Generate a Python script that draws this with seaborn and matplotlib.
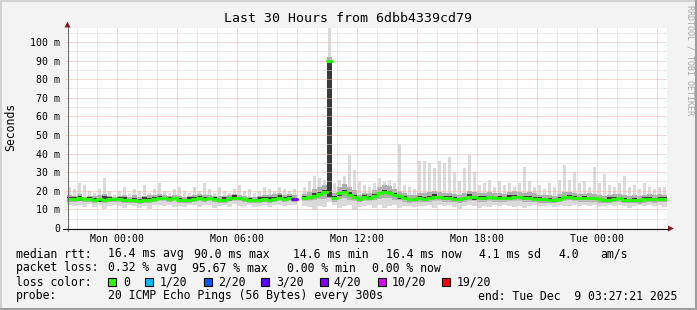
import numpy as np
import pandas as pd
import matplotlib
matplotlib.use("Agg")
import matplotlib.pyplot as plt
import seaborn as sns
from matplotlib.patches import Rectangle, Polygon
from matplotlib.lines import Line2D

nan = float("nan")

# ---------------- data (milliseconds), 15-minute bins ----------------
median = [
    15.8, 15.6, 15.9, 15.4, 15.6, 15.2, 15.5, 15.3, 15.6, 15.4,
    15.6, 15.2, 15.0, 15.3, 14.6, 14.8, 15.2, 15.8, 16.1, 15.9,
    15.7, 16.0, 15.2, 14.9, 15.1, 15.7, 16.0, 15.8, 16.1, 15.6,
    15.0, 15.3, 16.0, 16.2, 15.9, 15.4, 15.1, 14.8, 15.3, 15.6,
    15.2, 15.8, 16.3, 15.6, 15.9, 15.5, nan, 16.2, 16.5, 17.4,
    18.4, 19.2, 90.0, 16.1, 18.6, 19.3, 18.0, 16.8, 15.5, 16.4,
    16.2, 17.2, 18.6, 19.3, 19.0, 17.8, 17.0, 16.0, 15.4, 15.5,
    16.0, 15.8, 16.2, 16.8, 16.6, 16.3, 16.0, 15.7, 15.5, 16.0,
    16.8, 16.5, 16.3, 16.2, 16.5, 16.0, 16.2, 15.9, 16.3, 16.8,
    16.6, 16.0, 16.2, 15.8, 15.6, 15.4, 15.1, 15.0, 15.6, 16.6,
    16.8, 16.3, 16.0, 15.9, 16.1, 16.0, 15.4, 15.0, 15.2, 15.8,
    15.9, 15.1, 15.0, 15.3, 14.9, 15.6, 15.8, 15.5, 15.7, 15.6,
]
core_high = [
    16.6, 16.4, 17.2, 16.2, 16.4, 16.0, 16.3, 17.0, 16.4, 16.2,
    16.4, 16.8, 15.8, 16.1, 15.4, 16.4, 16.0, 16.6, 17.4, 16.7,
    16.5, 16.8, 16.0, 15.7, 16.6, 16.5, 17.2, 16.6, 16.9, 16.4,
    15.8, 16.7, 16.8, 17.5, 16.7, 16.2, 15.9, 15.6, 16.9, 16.4,
    16.6, 16.6, 17.6, 16.4, 17.2, 16.3, nan, 17.0, 17.3, 18.6,
    19.6, 20.4, 90.0, 17.3, 19.4, 20.6, 19.6, 17.6, 16.3, 17.6,
    17.0, 18.4, 19.4, 20.4, 20.0, 18.6, 17.8, 17.2, 16.2, 16.3,
    17.2, 16.6, 17.0, 18.2, 17.4, 17.1, 17.2, 16.5, 16.3, 16.8,
    18.2, 17.3, 17.1, 17.4, 17.3, 16.8, 17.4, 16.7, 17.6, 17.6,
    17.4, 17.2, 17.0, 16.6, 16.4, 16.2, 16.3, 15.8, 16.4, 17.4,
    17.6, 17.1, 16.8, 17.0, 16.9, 16.8, 16.2, 15.8, 16.4, 16.6,
    16.7, 16.3, 15.8, 16.1, 15.7, 16.4, 16.6, 16.3, 16.5, 16.4,
]
core_low = [
    15.0, 14.8, 14.6, 14.6, 14.8, 14.4, 14.2, 14.5, 14.8, 14.6,
    14.8, 14.4, 14.2, 13.9, 13.8, 14.0, 14.4, 14.5, 15.3, 15.1,
    14.9, 15.2, 14.4, 14.1, 14.3, 14.4, 15.2, 15.0, 14.8, 14.8,
    14.2, 14.5, 14.7, 15.4, 15.1, 14.6, 13.9, 14.0, 14.5, 14.8,
    14.4, 14.5, 15.5, 14.3, 15.1, 14.7, nan, 15.4, 15.7, 16.2,
    17.2, 18.4, 16.5, 15.3, 17.4, 18.5, 16.8, 16.0, 14.3, 15.6,
    15.4, 16.0, 17.8, 18.5, 17.8, 17.0, 15.8, 15.2, 14.6, 14.3,
    15.2, 14.6, 15.4, 16.0, 15.8, 15.1, 15.2, 14.5, 14.7, 15.2,
    16.0, 15.3, 15.5, 15.0, 15.7, 15.2, 15.0, 15.1, 15.5, 15.6,
    15.8, 15.2, 15.0, 15.0, 14.4, 14.6, 14.3, 14.2, 14.8, 15.4,
    16.0, 15.5, 14.8, 15.1, 15.3, 14.8, 14.6, 14.2, 14.4, 14.6,
    15.1, 14.3, 14.2, 14.1, 14.1, 14.8, 14.6, 14.7, 14.9, 14.8,
]
q_high = [
    17.5, 17.0, 18.2, 16.8, 17.4, 17.0, 17.8, 18.5, 17.2, 16.9,
    17.3, 17.8, 16.8, 17.5, 16.4, 17.2, 17.9, 17.6, 18.3, 17.5,
    17.2, 17.8, 17.0, 16.8, 17.0, 17.6, 18.2, 17.9, 18.0, 17.4,
    17.0, 17.3, 18.0, 18.4, 17.7, 17.2, 16.9, 16.6, 17.4, 17.8,
    17.6, 18.5, 18.8, 17.9, 18.2, 17.6, nan, 18.4, 19.5, 21.0,
    21.8, 23.0, 92.0, 19.0, 22.0, 23.5, 22.0, 20.5, 18.0, 19.0,
    19.0, 20.5, 22.0, 23.0, 22.5, 21.0, 20.0, 18.6, 17.8, 18.0,
    19.0, 18.6, 19.5, 20.0, 19.4, 19.0, 18.8, 18.4, 18.0, 18.8,
    19.8, 19.6, 19.0, 18.8, 19.4, 18.6, 19.0, 18.5, 19.2, 19.8,
    19.5, 19.0, 19.4, 18.8, 18.0, 17.8, 17.6, 17.4, 18.2, 19.4,
    19.6, 18.8, 18.4, 18.4, 18.6, 18.5, 17.8, 17.4, 17.6, 18.2,
    18.4, 17.6, 17.4, 17.8, 17.2, 18.0, 18.4, 18.0, 18.2, 18.0,
]
q_low = [
    14.2, 14.0, 14.3, 13.8, 14.1, 13.6, 13.9, 13.5, 14.0, 13.8,
    14.0, 13.6, 13.4, 13.7, 13.0, 13.3, 13.6, 14.2, 14.5, 14.3,
    14.1, 14.4, 13.6, 13.2, 13.5, 14.1, 14.4, 14.2, 14.5, 14.0,
    13.4, 13.7, 14.4, 14.6, 14.3, 13.8, 13.5, 13.2, 13.7, 14.0,
    13.6, 14.2, 14.6, 14.0, 14.3, 13.9, nan, 14.5, 14.6, 15.0,
    15.4, 15.8, 16.0, 14.2, 15.6, 16.0, 15.2, 14.6, 13.8, 14.5,
    14.6, 15.0, 15.8, 16.2, 16.0, 15.2, 14.8, 14.2, 13.6, 13.8,
    14.0, 13.8, 14.2, 14.6, 14.4, 14.2, 14.0, 13.8, 13.6, 14.0,
    14.6, 14.4, 14.2, 14.1, 14.4, 14.0, 14.2, 13.9, 14.3, 14.7,
    14.5, 14.0, 14.2, 13.8, 13.7, 13.5, 13.3, 13.2, 13.8, 14.6,
    14.8, 14.3, 14.0, 14.0, 14.2, 14.1, 13.6, 13.2, 13.4, 13.9,
    14.0, 13.3, 13.2, 13.5, 13.1, 13.7, 14.0, 13.7, 13.9, 13.8,
]
rtt_min = [
    12.5, 11.8, 12.6, 11.2, 12.8, 11.5, 12.2, 10.4, 12.0, 12.6,
    11.8, 11.0, 12.2, 11.6, 11.0, 11.8, 10.2, 12.3, 12.6, 11.9,
    12.4, 11.2, 12.0, 11.4, 12.5, 12.1, 11.3, 12.6, 12.2, 11.0,
    11.9, 12.4, 11.5, 12.7, 12.0, 11.6, 12.3, 11.2, 11.8, 12.4,
    11.5, 12.1, 12.6, 11.7, 12.2, 12.5, nan, 12.0, 11.4, 9.8,
    12.0, 11.2, 14.0, 12.5, 10.6, 11.8, 12.4, 9.6, 11.5, 12.0,
    12.2, 11.0, 12.4, 10.8, 11.6, 12.3, 10.5, 11.8, 12.0, 11.2,
    12.0, 11.6, 12.3, 11.0, 12.1, 11.7, 12.2, 11.4, 10.4, 11.9,
    12.3, 11.6, 10.8, 12.0, 11.5, 12.2, 11.9, 12.4, 11.8, 11.2,
    12.0, 10.9, 11.6, 12.3, 12.0, 11.8, 12.4, 11.5, 12.1, 11.6,
    12.0, 12.4, 11.7, 12.2, 11.9, 12.3, 11.6, 12.0, 12.4, 11.8,
    12.2, 11.9, 10.6, 12.0, 12.3, 11.7, 12.2, 11.9, 12.4, 11.3,
]
rtt_max = [
    22, 21, 24, 23, 20, 19, 21, 27, 20, 18,
    20, 22, 19, 21, 20, 23, 19, 21, 24, 20,
    19, 21, 22, 20, 19, 22, 20, 24, 21, 19,
    22, 20, 19, 21, 23, 20, 21, 19, 20, 22,
    21, 20, 22, 21, 20, 21, nan, 22, 25, 28,
    27, 26, 112, 24, 26, 28, 39, 31, 25, 23,
    22, 24, 27, 25, 26, 24, 45, 23, 22, 21,
    36, 36, 35, 32, 36, 35, 38, 30, 25, 32,
    39, 30, 23, 24, 26, 22, 25, 23, 24, 22,
    24, 33, 25, 22, 23, 21, 24, 22, 26, 34,
    26, 30, 24, 25, 22, 33, 24, 29, 23, 22,
    24, 28, 22, 23, 21, 24, 22, 21, 22, 22,
]
loss = [  # lost pings out of 20 per bin
    0, 0, 0, 0, 0, 0, 0, 0, 0, 0,
    0, 0, 0, 0, 0, 0, 0, 0, 0, 0,
    0, 0, 0, 0, 0, 0, 0, 0, 0, 0,
    0, 0, 0, 0, 0, 0, 0, 0, 0, 0,
    0, 0, 0, 0, 0, 4, 20, 0, 0, 0,
    0, 0, 0, 0, 0, 0, 0, 0, 0, 0,
    0, 0, 0, 0, 0, 0, 0, 0, 0, 0,
    0, 0, 0, 0, 0, 0, 0, 0, 0, 0,
    0, 0, 0, 0, 0, 0, 0, 0, 0, 0,
    0, 0, 0, 0, 0, 0, 0, 0, 0, 0,
    0, 0, 0, 0, 0, 0, 0, 0, 0, 0,
    0, 0, 0, 0, 0, 0, 0, 0, 0, 0,
]
x_tick_hours = [0, 6, 12, 18, 24]
x_tick_labels = ["Mon 00:00", "Mon 06:00", "Mon 12:00", "Mon 18:00", "Tue 00:00"]
y_ticks = [0, 10, 20, 30, 40, 50, 60, 70, 80, 90, 100]
y_tick_labels = ["0", "10 m", "20 m", "30 m", "40 m", "50 m", "60 m", "70 m",
                 "80 m", "90 m", "100 m"]
loss_thresholds = [0, 1, 2, 3, 4, 10, 19]
loss_labels = ["0", "1/20", "2/20", "3/20", "4/20", "10/20", "19/20"]
loss_colors = ["#26ff00", "#00b8ff", "#0059ff", "#5e00ff", "#7e00ff", "#dd00ff", "#ff0000"]

t_start = -2.475      # hours relative to Mon 00:00
bin_hours = 0.25
span_hours = 30.0

# ---------------- figure ----------------
W, H = 697, 310
sns.set_theme(style="white")
plt.rcParams["font.family"] = ["DejaVu Sans Mono"]
plt.rcParams["text.color"] = "black"

fig = plt.figure(figsize=(W / 100, H / 100), dpi=100, facecolor="#f3f3f3")


def fx(x):
    return x / W


def fy(y):
    return 1 - y / H


ax = fig.add_axes([fx(67), fy(228), 600 / W, 200 / H])
ax.set_facecolor("white")
for s in ax.spines.values():
    s.set_visible(False)

n = len(median)
edges = t_start + bin_hours * np.arange(n + 1)
centers = edges[:-1] + bin_hours / 2
xs = np.repeat(edges, 2)[1:-1]


def st(v):
    return np.repeat(np.asarray(v, float), 2)


# smoke: light base band, thin light spikes for the max, darker inner bands
lo = np.asarray(rtt_min, float)
hi = np.asarray(rtt_max, float)
ax.fill_between(xs, st(rtt_min), st(q_high), color="#dadada", lw=0, zorder=1)
ax.bar(centers, hi - lo, bottom=lo, width=bin_hours * 0.6, color="#dadada",
       linewidth=0, zorder=1)
ax.fill_between(xs, st(q_low), st(q_high), color="#b0b0b0", lw=0, zorder=1.3)
ax.fill_between(xs, st(core_low), st(core_high), color="#3a3a3a", lw=0, zorder=1.6)

ymax = 107.5
ax.set_xlim(t_start, t_start + span_hours)
ax.set_ylim(0, ymax)

# grid
red, grey = "#f4b0b0", "#d6d6d6"
for h in range(-2, 28):
    ax.axvline(h, ymin=-0.0125, ymax=1, clip_on=False,
               color=red if h % 3 == 0 else grey, lw=0.72, ls=(0, (1, 1)), zorder=2)
for v in range(5, 106, 5):
    ax.axhline(v, xmin=-2.5 / 600, xmax=1, clip_on=False,
               color=red if v % 10 == 0 else grey, lw=0.72, ls=(0, (1, 1)), zorder=2)


# median line coloured by loss
def loss_color(l):
    k = max(i for i, th in enumerate(loss_thresholds) if l >= th)
    return loss_colors[k]


rows = []
for i, (m, l) in enumerate(zip(median, loss)):
    if np.isnan(m):
        continue
    c = loss_color(l)
    rows.append((edges[i], m, i, c))
    rows.append((edges[i + 1], m, i, c))
df = pd.DataFrame(rows, columns=["t", "v", "bin", "c"])
sns.lineplot(data=df, x="t", y="v", units="bin", estimator=None, hue="c",
             palette={c: c for c in df["c"].unique()}, legend=False,
             linewidth=2.2, sort=False, ax=ax, zorder=5)
ax.set_xlabel("")
ax.set_ylabel("")

ax.set_xticks(x_tick_hours, x_tick_labels)
ax.set_yticks(y_ticks, y_tick_labels)
ax.tick_params(axis="both", length=0, labelsize=7.1, colors="black")
ax.tick_params(axis="x", pad=4.2)
ax.tick_params(axis="y", pad=5.0)
ax.grid(False)

# axes lines and arrows
fig.add_artist(Line2D([fx(67.5), fx(67.5)], [fy(231), fy(27)], color="#6a6a6a", lw=0.8))
fig.add_artist(Line2D([fx(63), fx(668)], [fy(228.5), fy(228.5)], color="#111111", lw=0.8))
fig.add_artist(Polygon([(fx(64.5), fy(27.5)), (fx(70.5), fy(27.5)), (fx(67.5), fy(21.5))],
                       closed=True, color="#8b1a1a", lw=0))
fig.add_artist(Polygon([(fx(668), fy(225.5)), (fx(668), fy(231.5)), (fx(674), fy(228.5))],
                       closed=True, color="#8b1a1a", lw=0))

# title, axis label, watermark
fig.text(fx(348), fy(19), "Last 30 Hours from 6dbb4339cd79", ha="center", va="center",
         fontsize=9.55)
fig.text(fx(11), fy(127), "Seconds", rotation=90, ha="center", va="center", fontsize=8.3)
fig.text(fx(690), fy(60), "RRDTOOL / TOBI OETIKER", rotation=-90, ha="center",
         va="center", fontsize=6.0, color="#a8a8a8")

# legend block
fs = 8.3
row1 = [(16, "median rtt:"), (107.6, "16.4 ms avg"), (194, "90.0 ms max"),
        (293, "14.6 ms min"), (386, "16.4 ms now"), (479, "4.1 ms sd"),
        (558, "4.0"), (600, "am/s")]
row2 = [(16, "packet loss:"), (107.6, "0.32 % avg"), (192.4, "95.67 % max"),
        (286.7, "0.00 % min"), (372.4, "0.00 % now")]
row4 = [(16, "probe:"), (107.6, "20 ICMP Echo Pings (56 Bytes) every 300s"),
        (478.2, "end: Tue Dec  9 03:27:21 2025")]
for y, row in [(254, row1), (268, row2), (296, row4)]:
    for x, s in row:
        fig.text(fx(x), fy(y), s, ha="left", va="center", fontsize=fs)

fig.text(fx(16), fy(282), "loss color:", ha="left", va="center", fontsize=fs)
box_x = [108, 145.3, 203.6, 261.3, 319.6, 377.8, 442.2]
lab_x = [123.6, 160, 217.8, 276, 333.8, 392, 456.9]
for bx, lx, lab, col in zip(box_x, lab_x, loss_labels, loss_colors):
    fig.add_artist(Rectangle((fx(bx), fy(286)), 8 / W, 8 / H, facecolor=col,
                             edgecolor="black", lw=0.8))
    fig.text(fx(lx), fy(282), lab, ha="left", va="center", fontsize=fs)

# frame
fig.add_artist(Line2D([0, 1], [fy(1), fy(1)], color="#d2d2d2", lw=1.5))
fig.add_artist(Line2D([fx(1), fx(1)], [0, 1], color="#d2d2d2", lw=1.5))
fig.add_artist(Line2D([0, 1], [fy(309), fy(309)], color="#9e9e9e", lw=1.5))
fig.add_artist(Line2D([fx(696), fx(696)], [0, 1], color="#9e9e9e", lw=1.5))

fig.savefig("out.png", dpi=100, facecolor=fig.get_facecolor())
